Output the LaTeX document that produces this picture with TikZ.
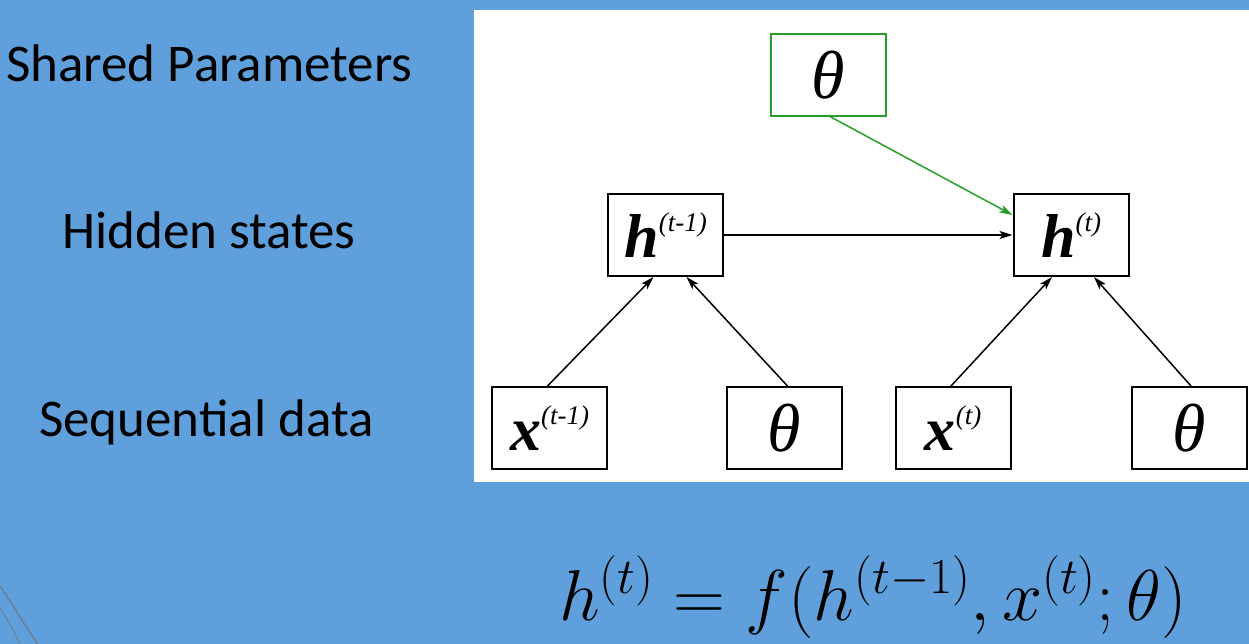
\RequirePackage{fix-cm}
\documentclass[tikz,border=0pt]{standalone}
\usepackage{fontspec}
\setmainfont{Liberation Serif}
\newfontfamily\labfont{Carlito}
\usetikzlibrary{arrows.meta}
\definecolor{slidebg}{RGB}{95,160,220}
\definecolor{boxgreen}{RGB}{40,160,40}
\definecolor{swoosh}{RGB}{110,125,150}
\tikzset{
  vbox/.style={draw=black, line width=2pt, fill=white, minimum width=115pt, minimum height=82pt, inner sep=0pt},
  gbox/.style={vbox, draw=boxgreen, line width=1.6pt},
  arr/.style={-{Stealth[length=13pt,width=8pt,inset=3pt]}, line width=1.5pt, black},
  garr/.style={arr, boxgreen},
  lab/.style={anchor=base west, inner sep=0pt, font=\labfont\fontsize{53}{60}\selectfont},
}
\newcommand{\bigv}[2]{{\fontsize{62}{62}\selectfont\bfseries\itshape #1}\raisebox{26pt}{\fontsize{27}{27}\selectfont\itshape #2}}
\newcommand{\thet}{{\fontsize{68}{68}\selectfont\itshape θ}}
\begin{document}
\begin{tikzpicture}[x=1pt,y=-1pt]
\fill[slidebg] (0,0) rectangle (1249,644);
\useasboundingbox (0,0) rectangle (1249,644);
\draw[swoosh, line width=1.5pt] (0,586) .. controls (14,606) and (26,628) .. (38,644);
\draw[swoosh, line width=1pt] (0,608) .. controls (8,620) and (14,632) .. (20,644);
\fill[white] (474,10) rectangle (1249,482);

\node[gbox] (th0) at (828.5,75) {\thet};
\node[vbox] (hp) at (665.5,235) {\bigv{h}{(t-1)}};
\node[vbox] (hc) at (1071,235) {\bigv{h}{(t)}};
\node[vbox] (xp) at (549.5,428) {\bigv{x}{(t-1)}};
\node[vbox] (t1) at (784.5,428) {\thet};
\node[vbox] (xc) at (953,428) {\bigv{x}{(t)}};
\node[vbox] (t2) at (1189,428) {\thet};

\draw[garr] ([xshift=2pt]th0.south) -- ([yshift=20pt]hc.west);
\draw[arr] (hp.east) -- (hc.west);
\draw[arr] ([xshift=-2pt]xp.north) -- ([xshift=-12pt]hp.south);
\draw[arr] ([xshift=3pt]t1.north) -- ([xshift=21pt]hp.south);
\draw[arr] ([xshift=-2pt]xc.north) -- ([xshift=-19pt]hc.south);
\draw[arr] ([xshift=2pt]t2.north) -- ([xshift=23pt]hc.south);

\node[lab] (l1) at (6,82) {Shared Parameters};
\node[lab] (l2) at (62,248) {Hidden states};
\node[lab] (l3) at (39,436) {Sequential data};

\node[inner sep=0pt, anchor=base, font=\fontsize{72}{80}\selectfont] (eq) at (873,620) {$h^{(t)} = f(h^{(t-1)}, x^{(t)}; \theta)$};
\end{tikzpicture}
\end{document}
